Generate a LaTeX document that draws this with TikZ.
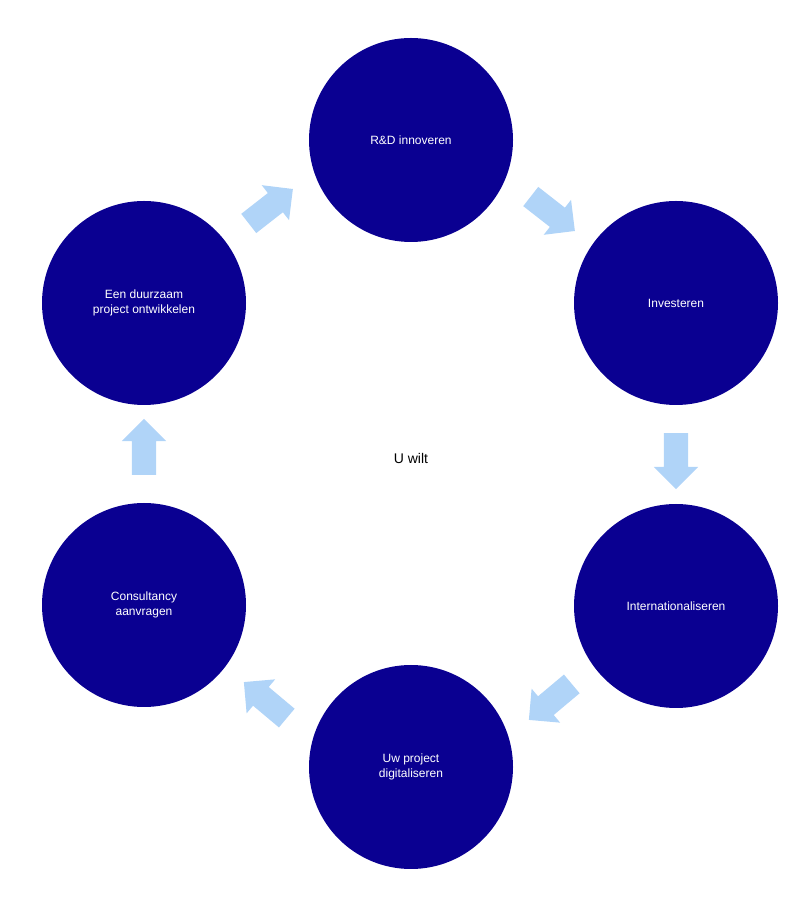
\documentclass[tikz,border=0pt]{standalone}
\usepackage{fontspec}
\setmainfont{Liberation Sans}
\usetikzlibrary{shapes.arrows}
\definecolor{navy}{HTML}{0A0091}
\definecolor{lblue}{HTML}{B0D4F8}
\begin{document}
\begin{tikzpicture}[x=1pt,y=1pt,
  circ/.style={circle,fill=navy,minimum size=204pt,inner sep=0pt,text=white,align=center,font=\fontsize{12}{15}\selectfont},
  arr/.style={single arrow,fill=lblue,draw=none,inner sep=0pt,text height=12pt,text depth=12pt,text width=0pt,minimum height=56pt,single arrow head extend=10pt}]
\useasboundingbox (0,0) rectangle (808,902);
\node[circ] (a) at (411,762) {R\&D innoveren};
\node[circ] (b) at (676,599) {Investeren};
\node[circ] (c) at (676,296) {Internationaliseren};
\node[circ] (d) at (411,135) {Uw project\\digitaliseren};
\node[circ] (e) at (144,297) {Consultancy\\aanvragen};
\node[circ] (f) at (144,599) {Een duurzaam\\project ontwikkelen};
\node[font=\fontsize{14}{17}\selectfont] (u) at (411,443) {U wilt};
\node[arr,rotate=-38] (ab) at (548,692) {};
\node[arr,rotate=-90] (bc) at (676,447) {};
\node[arr,rotate=-140] (cd) at (555,204) {};
\node[arr,rotate=140] (de) at (270,198) {};
\node[arr,rotate=90] (ef) at (144,449) {};
\node[arr,rotate=38] (fa) at (266,692) {};
\end{tikzpicture}
\end{document}
